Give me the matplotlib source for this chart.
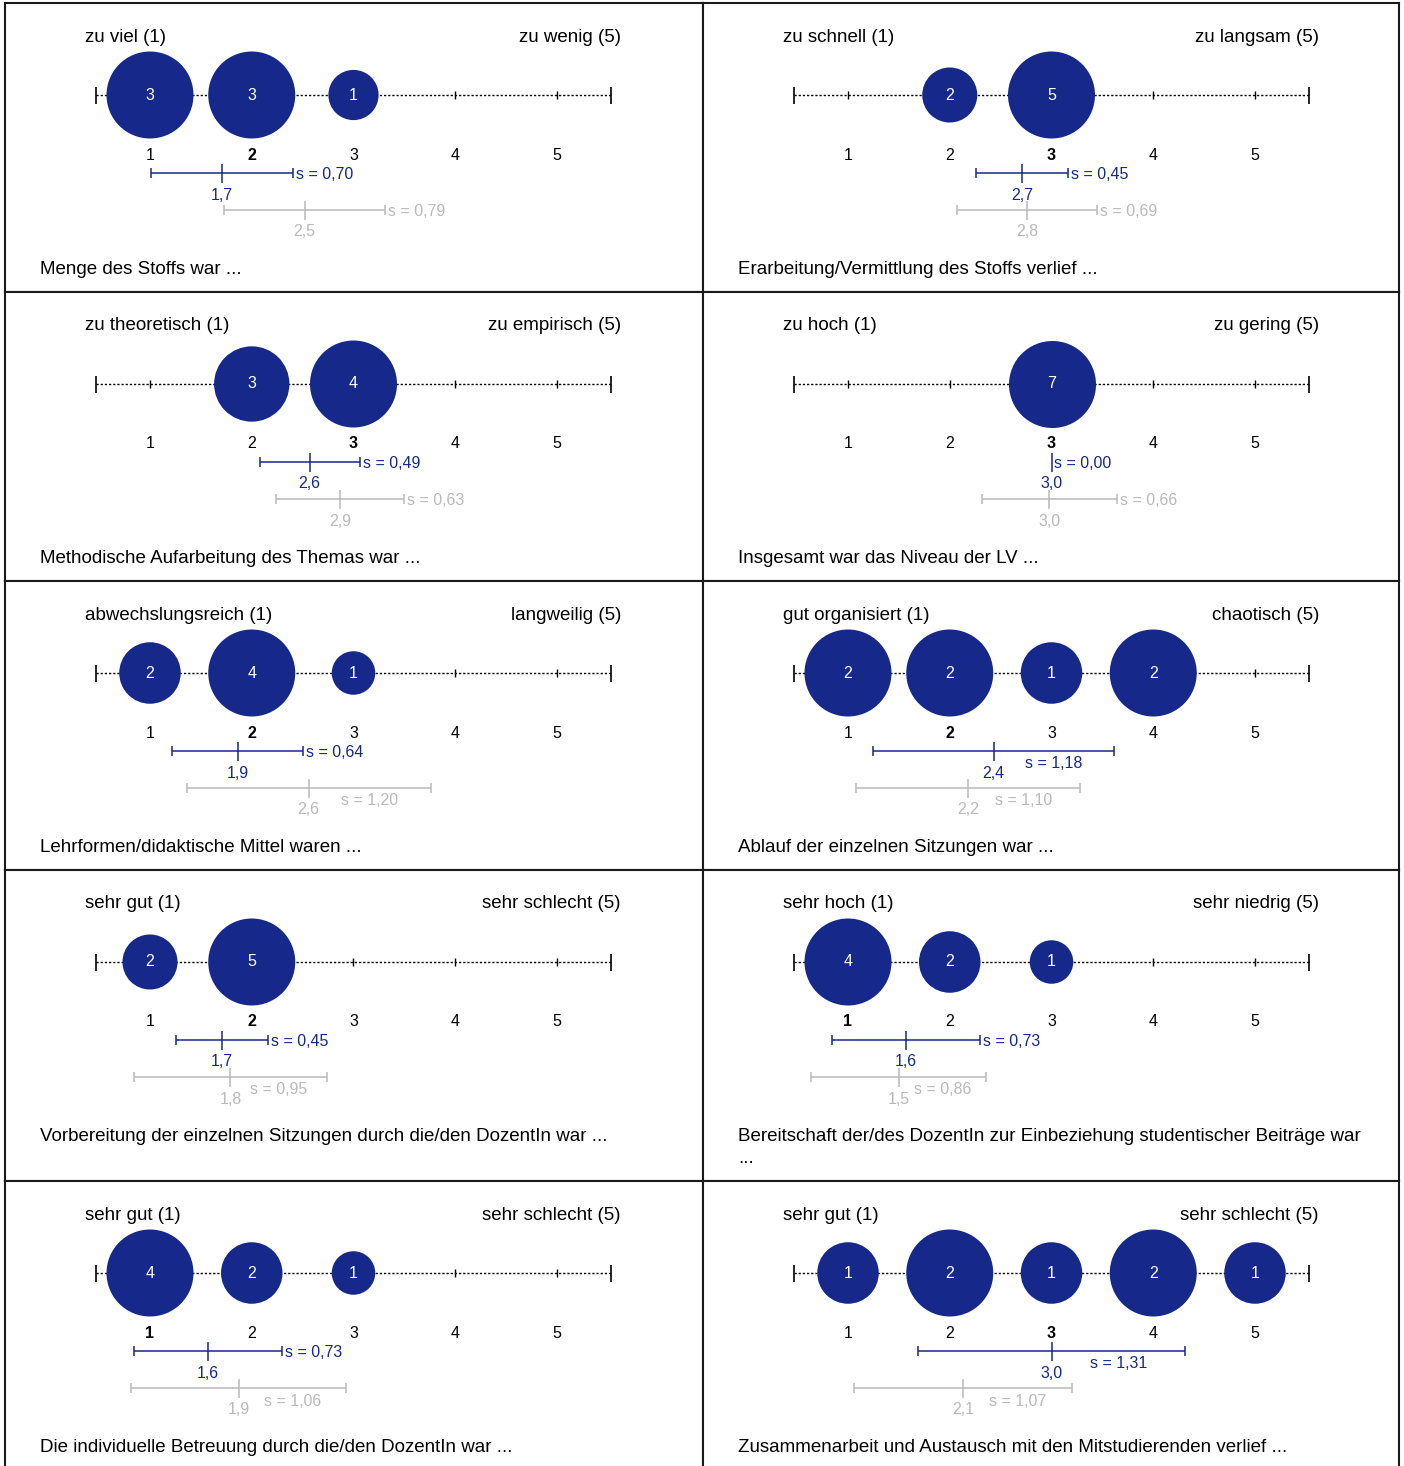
import matplotlib
matplotlib.use('Agg')
import matplotlib.pyplot as plt
import numpy as np

plt.rcParams['font.family'] = ['Liberation Sans', 'DejaVu Sans']

# ---------------- data ----------------
left_labels = ["zu viel (1)", "zu schnell (1)", "zu theoretisch (1)", "zu hoch (1)",
               "abwechslungsreich (1)", "gut organisiert (1)", "sehr gut (1)", "sehr hoch (1)",
               "sehr gut (1)", "sehr gut (1)"]
right_labels = ["zu wenig (5)", "zu langsam (5)", "zu empirisch (5)", "zu gering (5)",
                "langweilig (5)", "chaotisch (5)", "sehr schlecht (5)", "sehr niedrig (5)",
                "sehr schlecht (5)", "sehr schlecht (5)"]
titles = ["Menge des Stoffs war ...",
          "Erarbeitung/Vermittlung des Stoffs verlief ...",
          "Methodische Aufarbeitung des Themas war ...",
          "Insgesamt war das Niveau der LV ...",
          "Lehrformen/didaktische Mittel waren ...",
          "Ablauf der einzelnen Sitzungen war ...",
          "Vorbereitung der einzelnen Sitzungen durch die/den DozentIn war ...",
          "Bereitschaft der/des DozentIn zur Einbeziehung studentischer Beiträge war\n...",
          "Die individuelle Betreuung durch die/den DozentIn war ...",
          "Zusammenarbeit und Austausch mit den Mitstudierenden verlief ..."]
scale_points = [1, 2, 3, 4, 5]
counts = [[3, 3, 1, 0, 0],
          [0, 2, 5, 0, 0],
          [0, 3, 4, 0, 0],
          [0, 0, 7, 0, 0],
          [2, 4, 1, 0, 0],
          [2, 2, 1, 2, 0],
          [2, 5, 0, 0, 0],
          [4, 2, 1, 0, 0],
          [4, 2, 1, 0, 0],
          [1, 2, 1, 2, 1]]
means = [1.71, 2.71, 2.57, 3.00, 1.86, 2.43, 1.71, 1.57, 1.57, 3.00]
sds = [0.70, 0.45, 0.49, 0.00, 0.64, 1.18, 0.45, 0.73, 0.73, 1.31]
ref_means = [2.52, 2.76, 2.87, 2.98, 2.56, 2.18, 1.79, 1.50, 1.87, 2.13]
ref_sds = [0.79, 0.69, 0.63, 0.66, 1.20, 1.10, 0.95, 0.86, 1.06, 1.07]

# ---------------- style / layout ----------------
BLUE = '#16288a'
GRAY = '#b9b9b9'
W, H = 1404, 1466
fig = plt.figure(figsize=(W / 100, H / 100), dpi=100)
col_x = [5, 703]
col_w = [698, 696]
row_y = [3, 292, 581, 870, 1181]
row_h = [289, 289, 289, 311, 289]
UNIT = 101.75      # px per scale unit
X1 = 145           # px from panel left to value 1
MAXD_PT = 87 * 0.72  # max bubble diameter in points

LBL_FS = 13.5
NUM_FS = 11.5


def fmt(v, d):
    return f"{v:.{d}f}".replace('.', ',')


def stat_bar(ax, m, s, y, color):
    lw = 1.1
    if s > 0:
        ax.plot([m - s, m + s], [y, y], color=color, lw=lw, solid_capstyle='butt')
        ax.vlines([m - s, m + s], y - 5, y + 5, color=color, lw=lw)
    ax.vlines(m, y - 9, y + 10, color=color, lw=lw)
    ax.text(m, y + 22, fmt(m, 1), ha='center', va='center', color=color, fontsize=NUM_FS)
    if s > 0.8:
        ax.text(m + s / 2, y + 13, 's = ' + fmt(s, 2), ha='center', va='center',
                color=color, fontsize=NUM_FS)
    else:
        ax.text(m + s + 3 / UNIT, y + 1.5, 's = ' + fmt(s, 2), ha='left', va='center',
                color=color, fontsize=NUM_FS)


for i in range(10):
    r, c = divmod(i, 2)
    x0, w = col_x[c], col_w[c]
    y0, h = row_y[r], row_h[r]
    ax = fig.add_axes([x0 / W, 1 - (y0 + h) / H, w / W, h / H])
    xmin = 1 - X1 / UNIT
    ax.set_xlim(xmin, xmin + w / UNIT)
    ax.set_ylim(h, 0)
    ax.set_xticks([])
    ax.set_yticks([])
    for sp in ax.spines.values():
        sp.set_linewidth(1.5)
        sp.set_color('#1a1a1a')

    ax.text(xmin + 80 / UNIT, 34, left_labels[i], ha='left', va='center', fontsize=LBL_FS)
    ax.text(xmin + 616 / UNIT, 34, right_labels[i], ha='right', va='center', fontsize=LBL_FS)

    # scale line
    ly = 92
    lo, hi = scale_points[0] - 0.53, scale_points[-1] + 0.53
    ax.plot([lo, hi], [ly, ly], color='black', lw=1.0, linestyle=(0, (1.6, 1.4)), zorder=1)
    ax.vlines([lo, hi], ly - 8, ly + 9, color='black', lw=1.2, zorder=1)
    ax.vlines(scale_points, ly - 4, ly + 4, color='black', lw=1.0, zorder=1)

    cnt = np.array(counts[i])
    pts = np.array(scale_points)
    nz = cnt > 0
    sizes = (MAXD_PT ** 2) * cnt[nz] / cnt.max()
    ax.scatter(pts[nz], np.full(nz.sum(), ly), s=sizes, color=BLUE, linewidths=0, zorder=3)
    for p, n in zip(pts[nz], cnt[nz]):
        ax.text(p, ly, str(n), ha='center', va='center', color='white', fontsize=NUM_FS, zorder=4)

    med = int(np.median(np.repeat(pts, cnt)))
    for p in scale_points:
        ax.text(p, 152, str(p), ha='center', va='center', fontsize=NUM_FS,
                fontweight='bold' if p == med else 'normal')

    stat_bar(ax, means[i], sds[i], 170, BLUE)
    stat_bar(ax, ref_means[i], ref_sds[i], 207, GRAY)

    ax.text(xmin + 35 / UNIT, 258, titles[i], ha='left', va='top', fontsize=LBL_FS,
            linespacing=1.35)

fig.savefig('out.png', dpi=100)
